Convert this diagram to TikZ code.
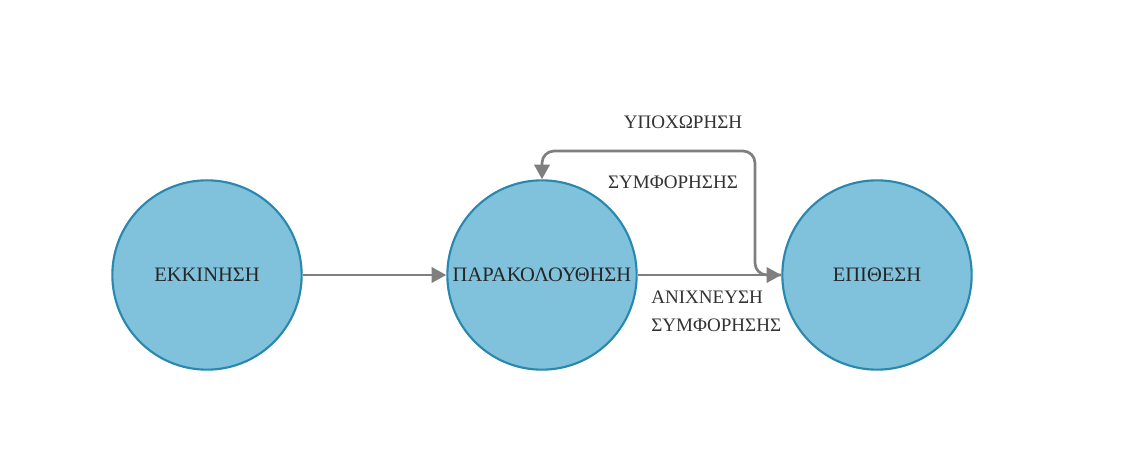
\documentclass[tikz,border=0pt]{standalone}
\usepackage{fontspec}
\setmainfont{Liberation Serif}
\usetikzlibrary{arrows.meta}
\definecolor{statefill}{HTML}{80C2DC}
\definecolor{stateline}{HTML}{2A88AE}
\definecolor{flowgray}{HTML}{7F7F7F}
\definecolor{labelgray}{HTML}{333333}
\begin{document}
\begin{tikzpicture}[x=0.75pt,y=-0.75pt,
  state/.style={circle, draw=stateline, fill=statefill, line width=1.6pt,
    minimum size=142pt, inner sep=0pt, font=\fontsize{15.4}{18}\selectfont, text=black!85},
  flow/.style={draw=flowgray, line width=2pt, rounded corners=9pt,
    -{Triangle[length=11pt,width=11.5pt]}},
  lbl/.style={font=\fontsize{14.3}{17}\selectfont, text=labelgray, inner sep=0pt}]
\useasboundingbox[fill=white] (0,0) rectangle (1135,457);

\node[state] (s) at (207,275) {ΕΚΚΙΝΗΣΗ};
\node[state] (p) at (542,275) {ΠΑΡΑΚΟΛΟΥΘΗΣΗ};
\node[state] (e) at (877,275) {ΕΠΙΘΕΣΗ};

% forward transitions
\draw[flow] (s) -- (p);
\draw[flow] (p) -- (e);

% retreat loop from the attack state back to monitoring
\coordinate (b1) at (755,275);
\coordinate (b2) at (755,151);
\coordinate (b3) at (542,151);
\draw[flow] (e.west) -- (b1) -- (b2) -- (b3) -- (p.north);

\node[lbl] (l1) at (683,122) {ΥΠΟΧΩΡΗΣΗ};
\node[lbl] (l2) at (673,182) {ΣΥΜΦΟΡΗΣΗΣ};
\node[lbl, anchor=west] (l3) at (651,297) {ΑΝΙΧΝΕΥΣΗ};
\node[lbl, anchor=west] (l4) at (651,325) {ΣΥΜΦΟΡΗΣΗΣ};
\end{tikzpicture}
\end{document}
